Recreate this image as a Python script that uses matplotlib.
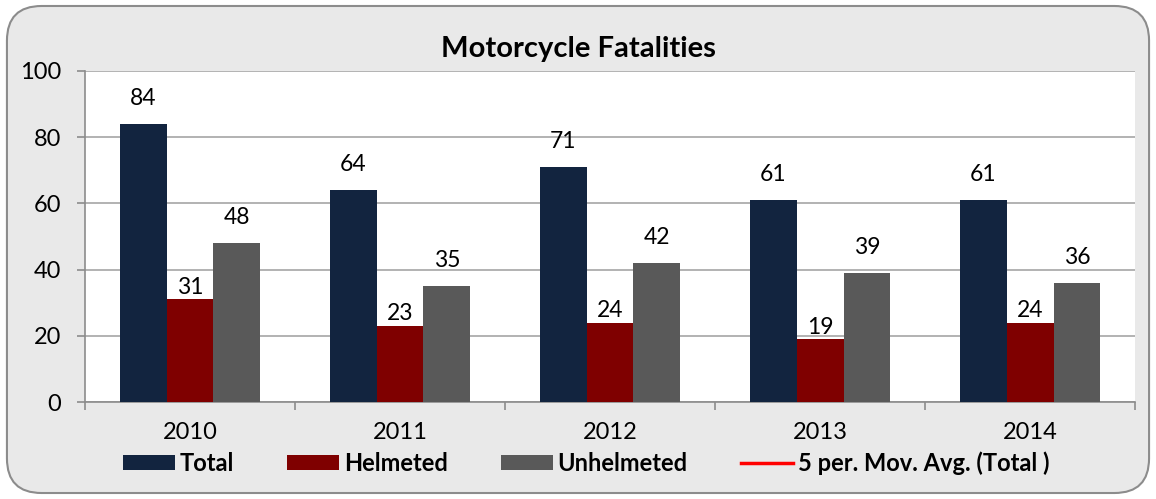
# plot.py
# Motorcycle fatalities by year, grouped bars with a moving average entry

import numpy as np
import pandas as pd
import matplotlib
matplotlib.use("Agg")
import matplotlib.pyplot as plt
from matplotlib.patches import FancyBboxPatch

plt.rcParams['font.family'] = ['Lato', 'DejaVu Sans']

# Data
years = ['2010', '2011', '2012', '2013', '2014']
total = [84, 64, 71, 61, 61]
helmeted = [31, 23, 24, 19, 24]
unhelmeted = [48, 35, 42, 39, 36]

# 5-period moving average of the total (only one point with 5 years)
mov_avg = pd.Series(total).rolling(5).mean()

fig = plt.figure(figsize=(11.56, 4.99), dpi=100)
fig.patch.set_alpha(0)

# rounded border around the whole chart
borde = FancyBboxPatch((0.006, 0.012), 0.988, 0.976,
                       boxstyle="round,pad=0,rounding_size=0.03",
                       transform=fig.transFigure, facecolor='#e9e9e9',
                       edgecolor='#8c8c8c', linewidth=1.5, zorder=-10,
                       mutation_aspect=1156 / 499)
fig.patches.append(borde)

ax = fig.add_axes([0.0735, 0.194, 0.9085, 0.664])
ax.set_facecolor('white')

x = np.arange(len(years))
w = 0.223
c_total = '#12243f'
c_helm = '#7f0000'
c_unhelm = '#595959'

b1 = ax.bar(x - w, total, w, color=c_total, label='Total', zorder=3)
b2 = ax.bar(x, helmeted, w, color=c_helm, label='Helmeted', zorder=3)
b3 = ax.bar(x + w, unhelmeted, w, color=c_unhelm, label='Unhelmeted', zorder=3)
l1, = ax.plot(x, mov_avg, color='red', linewidth=2.5,
              label='5 per. Mov. Avg. (Total )', zorder=4)

# value labels (helmeted labels sit closer to the bar, as in the original)
for barras, off in ((b1, 13.5), (b2, 4), (b3, 13.5)):
    for b in barras:
        h = b.get_height()
        ax.annotate(f'{int(h)}', (b.get_x() + b.get_width() / 2, h),
                    xytext=(0, off), textcoords='offset points',
                    ha='center', va='baseline', fontsize=16.5, color='black')

ax.set_xlim(-0.5, len(years) - 0.5)
ax.set_ylim(0, 100)
ax.set_yticks(range(0, 101, 20))
ax.yaxis.grid(True, color='#a6a6a6', linewidth=1.2, zorder=0)
ax.set_axisbelow(True)

ax.set_xticks(x)
ax.set_xticklabels(years, fontsize=17)
ax.set_xticks(np.arange(-0.5, len(years)), minor=True)
ax.tick_params(axis='x', which='major', length=0, pad=14)
ax.tick_params(axis='x', which='minor', length=6, color='#8c8c8c', width=1.2)
ax.tick_params(axis='y', length=6, color='#8c8c8c', width=1.2,
               labelsize=17, pad=11)

for s in ['top', 'right']:
    ax.spines[s].set_visible(False)
for s in ['left', 'bottom']:
    ax.spines[s].set_color('#8c8c8c')
    ax.spines[s].set_linewidth(1.2)

fig.text(0.5, 0.902, 'Motorcycle Fatalities', ha='center', va='center',
         fontsize=21, fontweight='bold')

leg = fig.legend(handles=[b1, b2, b3, l1], loc='center',
                 bbox_to_anchor=(0.507, 0.072), ncol=4, frameon=False,
                 prop={'weight': 'bold', 'size': 17}, handlelength=2.2,
                 handleheight=0.65, handletextpad=0.2, columnspacing=2.25,
                 borderaxespad=0)

nombre_archivo = 'out.png'
plt.savefig(nombre_archivo, dpi=100)
plt.close()
